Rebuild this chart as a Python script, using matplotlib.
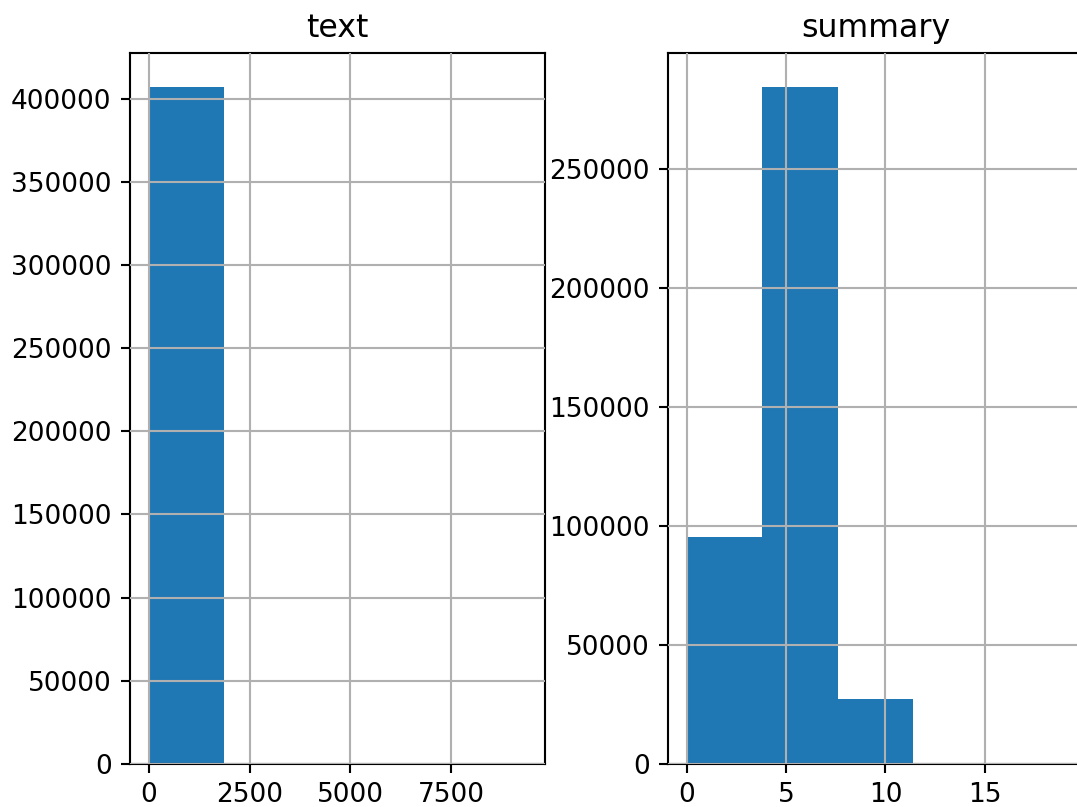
import matplotlib
matplotlib.use("Agg")
import matplotlib.pyplot as plt

# Data (5 bins each)
text_edges = [0, 1873, 3746, 5620, 7493, 9366]
text_counts = [407000, 600, 60, 8, 2]

summary_edges = [0.0, 3.8, 7.6, 11.4, 15.2, 19.0]
summary_counts = [95500, 284300, 27100, 300, 20]

titles = ["text", "summary"]

DPI = 190
W, H = 1077, 807
fig = plt.figure(figsize=(W / DPI, H / DPI), dpi=DPI)

ax_bottom = (H - 764) / H
ax_height = (764 - 53) / H
ax1 = fig.add_axes([130 / W, ax_bottom, 415 / W, ax_height])
ax2 = fig.add_axes([668 / W, ax_bottom, 415 / W, ax_height])

for ax, edges, counts, title in [
    (ax1, text_edges, text_counts, titles[0]),
    (ax2, summary_edges, summary_counts, titles[1]),
]:
    lefts = edges[:-1]
    widths = [edges[i + 1] - edges[i] for i in range(len(edges) - 1)]
    ax.bar(lefts, counts, width=widths, align="edge", color="#1f77b4",
           linewidth=0)
    ax.set_title(title)
    ax.grid(True)
    ax.set_axisbelow(False)

ax1.set_xticks([0, 2500, 5000, 7500])
ax2.set_xticks([0, 5, 10, 15])

fig.savefig("out.png", dpi=DPI)
